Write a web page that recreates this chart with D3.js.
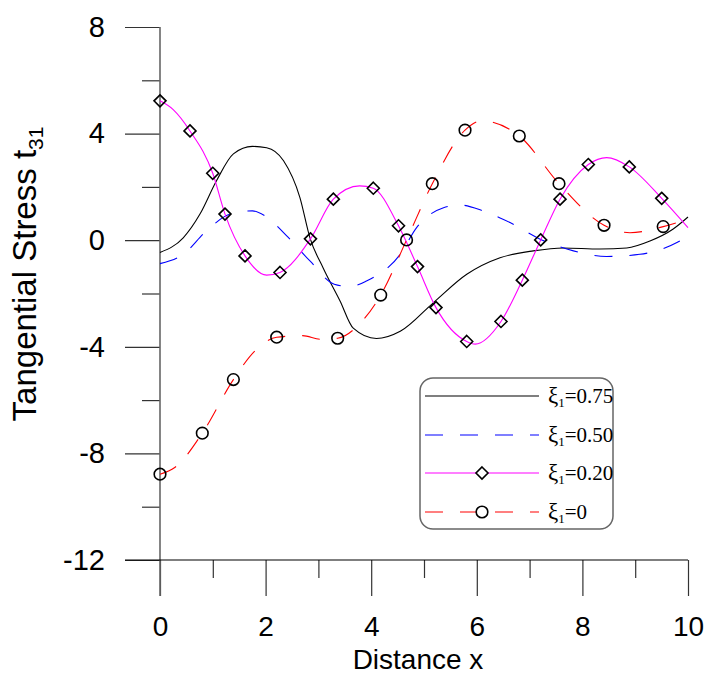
<!DOCTYPE html>
<html>
<head>
<meta charset="utf-8">
<script src="https://cdn.jsdelivr.net/npm/d3@7/dist/d3.min.js"></script>
<style>
  body { margin: 0; background: #fff; }
  svg { display: block; }
</style>
</head>
<body>
<svg id="chart" width="705" height="675"></svg>
<script>
// ---- data ----
var blackX = [0, 0.44, 0.76, 1.07, 1.39, 1.75, 2.02, 2.34, 2.65, 2.84, 3.09, 3.41, 3.66, 4.1, 4.55, 5.18, 5.81, 6.44, 7.07, 7.64, 8.33, 8.84, 9.28, 9.72, 10];
var blackY = [-0.46, 0.09, 0.99, 2.23, 3.24, 3.52, 3.47, 2.98, 1.6, 0.09, -1.04, -2.28, -3.3, -3.69, -3.42, -2.34, -1.28, -0.66, -0.4, -0.29, -0.33, -0.29, -0.03, 0.42, 0.87];

var blueX = [0, 0.44, 0.88, 1.33, 1.75, 1.99, 2.4, 2.84, 3.3, 3.6, 3.91, 4.55, 4.86, 5.37, 5.68, 6.12, 6.63, 7.2, 7.83, 8.46, 9.09, 9.79, 10];
var blueY = [-0.88, -0.53, 0.35, 0.98, 1.1, 0.91, 0.16, -0.78, -1.65, -1.74, -1.53, -0.53, 0.47, 1.22, 1.32, 1.1, 0.66, 0.04, -0.4, -0.61, -0.53, -0.09, 0.16];

var magX = [0, 0.25, 0.568, 0.999, 1.231, 1.61, 2.02, 2.273, 2.85, 3.283, 3.78, 4.04, 4.517, 4.877, 5.227, 5.809, 5.97, 6.458, 6.862, 7.21, 7.576, 8.112, 8.46, 8.888, 9.502, 10];
var magY = [5.23, 4.9, 4.1, 2.51, 0.98, -0.59, -1.31, -1.21, 0.05, 1.54, 2.04, 1.95, 0.54, -0.99, -2.53, -3.8, -3.9, -3.05, -1.5, 0.01, 1.54, 2.84, 3.1, 2.75, 1.57, 0.47];

var redX = [0, 0.28, 0.801, 1.39, 1.8, 2.21, 2.7, 3.05, 3.365, 3.8, 4.18, 4.67, 5.157, 5.777, 6.09, 6.805, 7.557, 8.41, 8.9, 9.53, 10];
var redY = [-8.78, -8.53, -7.24, -5.23, -4.15, -3.64, -3.58, -3.72, -3.68, -3.1, -2.06, 0.01, 2.12, 4.13, 4.48, 3.91, 2.12, 0.56, 0.28, 0.51, 0.8];

var diamondX = [0, 0.568, 0.999, 1.231, 1.61, 2.273, 2.85, 3.283, 4.04, 4.517, 4.877, 5.227, 5.809, 6.458, 6.862, 7.21, 7.576, 8.112, 8.888, 9.502];
var diamondY = [5.23, 4.1, 2.51, 0.98, -0.59, -1.21, 0.05, 1.54, 1.95, 0.54, -0.99, -2.53, -3.8, -3.05, -1.5, 0.01, 1.54, 2.84, 2.75, 1.57];

var circleX = [0, 0.801, 1.39, 2.21, 3.365, 4.18, 4.67, 5.157, 5.777, 6.805, 7.557, 8.41, 9.53];
var circleY = [-8.78, -7.24, -5.23, -3.64, -3.68, -2.06, 0.01, 2.12, 4.13, 3.91, 2.12, 0.56, 0.51];

var xMajor = [0, 2, 4, 6, 8, 10];
var xMinor = [1, 3, 5, 7, 9];
var yMajor = [-12, -8, -4, 0, 4, 8];
var yMinor = [-10, -6, -2, 2, 6];

var legendText = ["0.75", "0.50", "0.20", "0"];

// ---- styles ----
var AXIS_FONT = "Arial, 'Liberation Sans', sans-serif";
var LEG_FONT = "'Times New Roman', 'Liberation Serif', serif";
var TICK_FONT_SZ = 28;
var TITLE_FONT_SZ = 28;
var YTITLE_FONT_SZ = 33;
var DASH = "18,17";

var svg = d3.select("#chart");

var xScale = d3.scaleLinear().domain([0, 10]).range([160, 688]);
var yScale = d3.scaleLinear().domain([-12, 8]).range([560, 27]);

function zip(xs, ys) {
    return xs.map(function(d, i) { return [d, ys[i]]; });
}

var line = d3.line()
    .x(function(d) { return xScale(d[0]); })
    .y(function(d) { return yScale(d[1]); })
    .curve(d3.curveMonotoneX);

// plain hyphen minus like the original
function plainNum(d) { return String(d); }

// ---- axes ----
function draw_axes() {
    var yAxisMajor = d3.axisLeft(yScale).tickValues(yMajor).tickSize(35).tickPadding(20).tickFormat(plainNum);
    var yAxisMinor = d3.axisLeft(yScale).tickValues(yMinor).tickSize(18).tickFormat("");
    var xAxisMajor = d3.axisBottom(xScale).tickValues(xMajor).tickSize(36).tickPadding(20).tickFormat(plainNum);
    var xAxisMinor = d3.axisBottom(xScale).tickValues(xMinor).tickSize(18).tickFormat("");

    var gy = svg.append("g").attr("transform", "translate(160,0)").call(yAxisMajor);
    svg.append("g").attr("transform", "translate(160,0)").call(yAxisMinor);
    var gx = svg.append("g").attr("transform", "translate(0,560)").call(xAxisMajor);
    svg.append("g").attr("transform", "translate(0,560)").call(xAxisMinor);

    svg.selectAll(".domain").remove();
    svg.selectAll(".tick line").attr("stroke", "#333").attr("stroke-width", 1.2);

    gy.selectAll("text").attr("font-family", AXIS_FONT).attr("font-size", 29).attr("fill", "#000");
    gx.selectAll("text").attr("font-family", AXIS_FONT).attr("font-size", TICK_FONT_SZ).attr("fill", "#000");

    // axis lines
    svg.append("line")
        .attr("x1", xScale(0)).attr("x2", xScale(0))
        .attr("y1", yScale(8)).attr("y2", yScale(-12) + 36)
        .attr("stroke", "#666").attr("stroke-width", 1.6);
    svg.append("line")
        .attr("x1", xScale(0) - 35).attr("x2", xScale(10))
        .attr("y1", yScale(-12)).attr("y2", yScale(-12))
        .attr("stroke", "#000").attr("stroke-width", 1.2);

    // titles
    svg.append("text")
        .attr("x", 418).attr("y", 668.5)
        .attr("text-anchor", "middle")
        .attr("font-family", AXIS_FONT).attr("font-size", TITLE_FONT_SZ)
        .text("Distance x");

    var yt = svg.append("text")
        .attr("transform", "translate(36,274) rotate(-90)")
        .attr("text-anchor", "middle")
        .attr("font-family", AXIS_FONT).attr("font-size", YTITLE_FONT_SZ);
    yt.append("tspan").text("Tangential Stress t");
    yt.append("tspan").attr("font-size", 21).attr("dy", 7).text("31");
}

function diamond(s) {
    return "M0," + (-s) + "L" + s + ",0L0," + s + "L" + (-s) + ",0Z";
}

function draw_series() {
    svg.append("path").datum(zip(blackX, blackY))
        .attr("d", line).attr("fill", "none")
        .attr("stroke", "#000").attr("stroke-width", 1.1);

    svg.append("path").datum(zip(blueX, blueY))
        .attr("d", line).attr("fill", "none")
        .attr("stroke", "#0000ff").attr("stroke-width", 1.1)
        .attr("stroke-dasharray", DASH);

    svg.append("path").datum(zip(magX, magY))
        .attr("d", line).attr("fill", "none")
        .attr("stroke", "#ff00ff").attr("stroke-width", 1.1);

    svg.append("path").datum(zip(redX, redY))
        .attr("d", line).attr("fill", "none")
        .attr("stroke", "#ff0000").attr("stroke-width", 1.1)
        .attr("stroke-dasharray", DASH);

    svg.selectAll(".dia")
        .data(zip(diamondX, diamondY))
        .enter().append("path")
        .attr("class", "dia")
        .attr("transform", function(d) { return "translate(" + xScale(d[0]) + "," + yScale(d[1]) + ")"; })
        .attr("d", diamond(6))
        .attr("fill", "none").attr("stroke", "#000").attr("stroke-width", 1.6);

    svg.selectAll(".circ")
        .data(zip(circleX, circleY))
        .enter().append("circle")
        .attr("class", "circ")
        .attr("cx", function(d) { return xScale(d[0]); })
        .attr("cy", function(d) { return yScale(d[1]); })
        .attr("r", 5.8)
        .attr("fill", "none").attr("stroke", "#000").attr("stroke-width", 1.6);
}

function draw_legend() {
    var lg = svg.append("g");
    lg.append("rect")
        .attr("x", 420).attr("y", 378)
        .attr("width", 193).attr("height", 151)
        .attr("rx", 13).attr("ry", 13)
        .attr("fill", "#fff").attr("stroke", "#666").attr("stroke-width", 1.5);

    var cols = ["#000", "#0000ff", "#ff00ff", "#ff0000"];
    var dashes = [null, DASH, null, DASH];
    var rowY = [396, 435, 473, 512];

    legendText.forEach(function(t, i) {
        lg.append("line")
            .attr("x1", 425).attr("x2", 539)
            .attr("y1", rowY[i]).attr("y2", rowY[i])
            .attr("stroke", cols[i]).attr("stroke-width", 1.1)
            .attr("stroke-dasharray", dashes[i]);

        var txt = lg.append("text")
            .attr("x", 548).attr("y", rowY[i] + 7)
            .attr("font-family", LEG_FONT).attr("font-size", 21);
        txt.append("tspan").attr("font-size", 23).text("\u03be");
        txt.append("tspan").attr("font-size", 13).attr("dy", 4).text("1");
        txt.append("tspan").attr("dy", -4).text("=" + t);
    });

    lg.append("path")
        .attr("transform", "translate(482," + rowY[2] + ")")
        .attr("d", diamond(6))
        .attr("fill", "#fff").attr("stroke", "#000").attr("stroke-width", 1.6);
    lg.append("circle")
        .attr("cx", 482).attr("cy", rowY[3]).attr("r", 5.8)
        .attr("fill", "#fff").attr("stroke", "#000").attr("stroke-width", 1.6);
}

draw_axes();
draw_series();
draw_legend();
</script>
</body>
</html>
